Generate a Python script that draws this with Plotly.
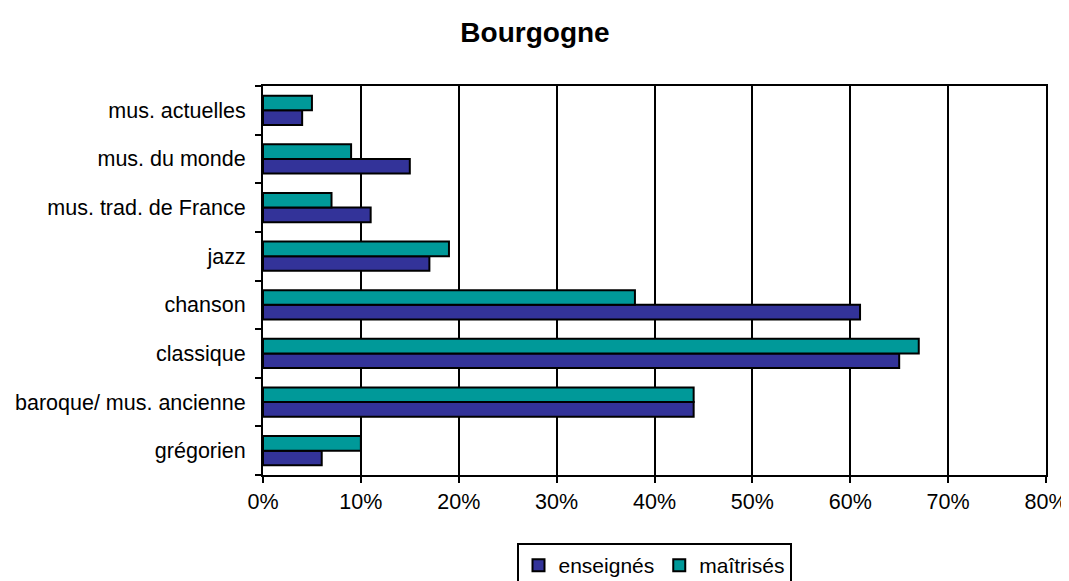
import plotly.graph_objects as go

categories = ["grégorien", "baroque/ mus. ancienne", "classique", "chanson", "jazz",
              "mus. trad. de France", "mus. du monde", "mus. actuelles"]
enseignes = [0.06, 0.44, 0.65, 0.61, 0.17, 0.11, 0.15, 0.04]
maitrises = [0.10, 0.44, 0.67, 0.38, 0.19, 0.07, 0.09, 0.05]
x_ticks = [0, 0.1, 0.2, 0.3, 0.4, 0.5, 0.6, 0.7, 0.8]
x_labels = ["0%", "10%", "20%", "30%", "40%", "50%", "60%", "70%", "80%"]

FONT = "Liberation Sans, Arial, sans-serif"
OFF = 8  # page body margin
W, H = 1069, 581
L, R, T, B = 263 - OFF, W - (1046 - OFF), 86 - OFF, H - (475 - OFF)
PW, PH = W - L - R, H - T - B

fig = go.Figure()
fig.add_trace(go.Bar(y=categories, x=enseignes, orientation="h", name="enseignés",
                     marker=dict(color="#333399", line=dict(color="black", width=2))))
fig.add_trace(go.Bar(y=categories, x=maitrises, orientation="h", name="maîtrisés",
                     marker=dict(color="#009999", line=dict(color="black", width=2))))

fig.update_layout(
    width=W, height=H,
    margin=dict(l=L, r=R, t=T, b=B, autoexpand=False),
    paper_bgcolor="white", plot_bgcolor="white",
    barmode="group", bargap=0.4, bargroupgap=0,
    font=dict(family=FONT, size=21.5, color="black"),
    title=dict(text="<b>Bourgogne</b>", x=(535 - OFF) / W, xanchor="center",
               y=1 - (32 - OFF) / H, yanchor="middle",
               font=dict(family=FONT, size=28, color="black")),
    legend=dict(orientation="h", x=(654 - 263) / PW, xanchor="center",
                y=(475 - 543) / PH, yanchor="top", bordercolor="black", borderwidth=2,
                font=dict(family=FONT, size=21, color="black"), traceorder="normal",
                itemwidth=30, tracegroupgap=0),
    xaxis=dict(range=[0, 0.8], tickvals=x_ticks, ticktext=x_labels,
               showgrid=True, gridcolor="black", gridwidth=2,
               showline=True, linecolor="black", linewidth=2, mirror=True,
               ticks="outside", ticklen=6, tickwidth=2, tickcolor="black",
               zeroline=False, fixedrange=True, automargin=False),
    yaxis=dict(type="category", categoryorder="array", categoryarray=categories,
               showgrid=False, showline=True, linecolor="black", linewidth=2, mirror=True,
               ticks="outside", ticklen=6, tickwidth=2, tickcolor="black",
               tickson="boundaries", ticklabelstandoff=11, fixedrange=True,
               automargin=False),
)

fig.write_html("out.html")
